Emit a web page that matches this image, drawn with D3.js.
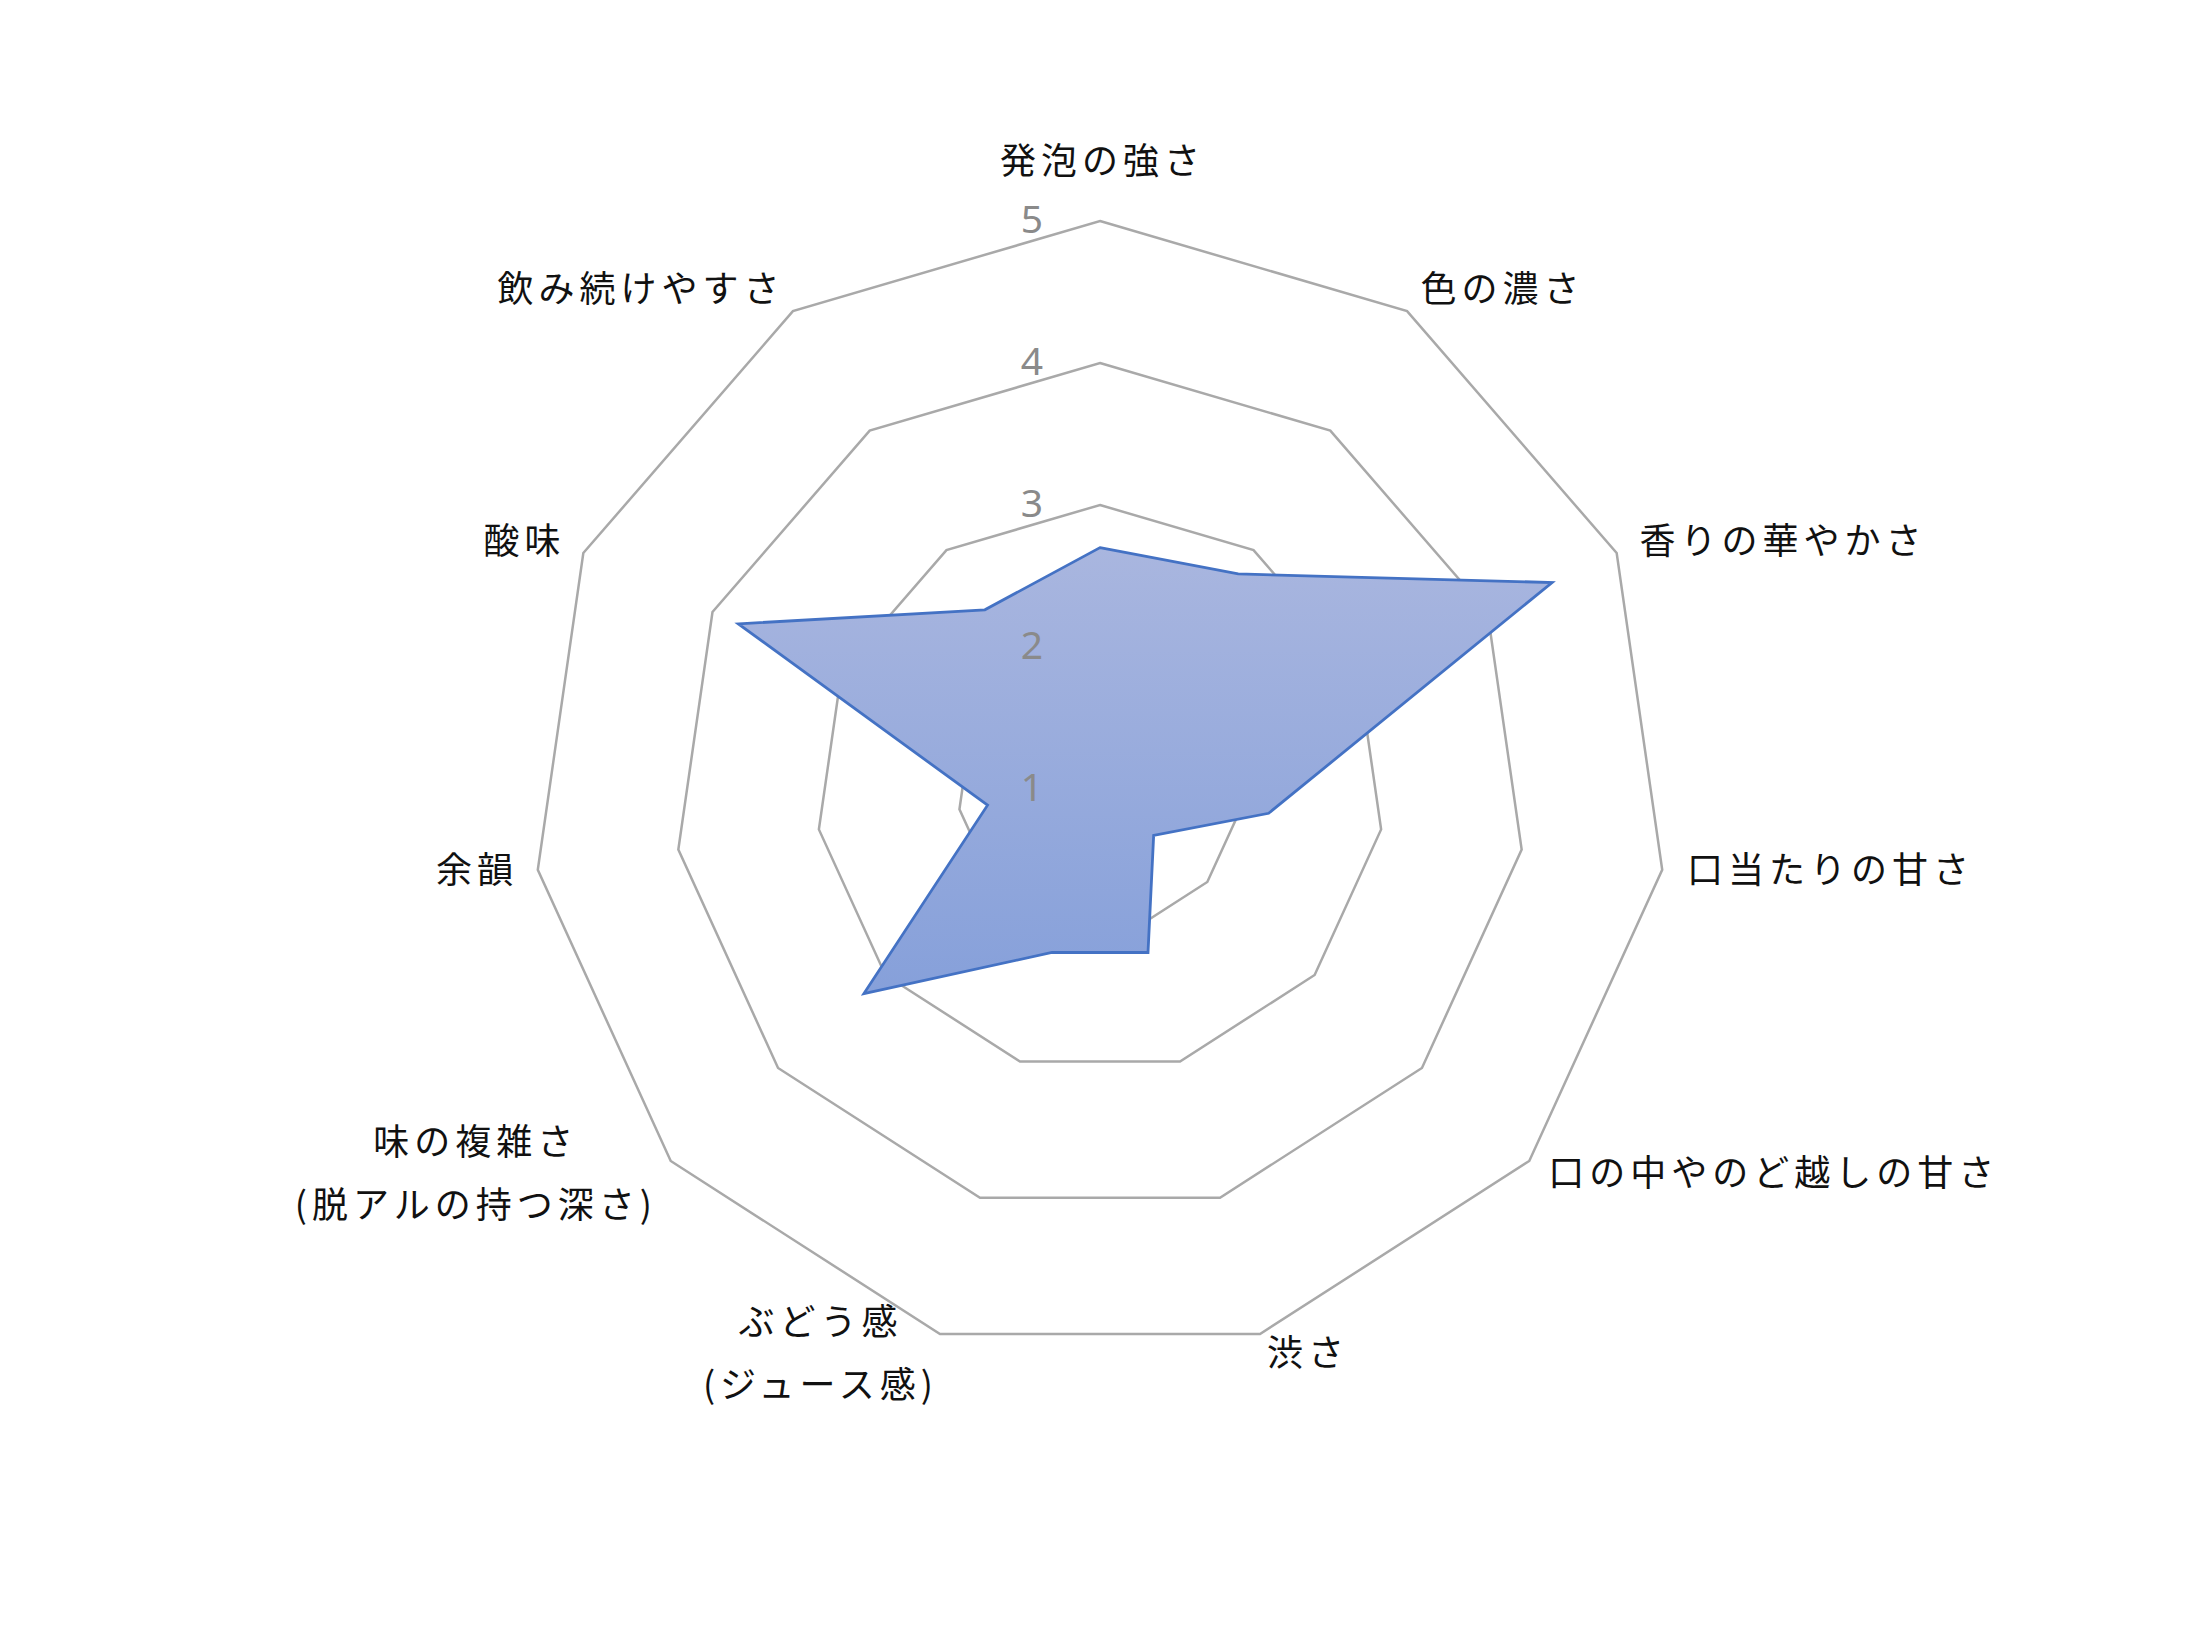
<!DOCTYPE html>
<html>
<head>
<meta charset="utf-8">
<script src="https://cdn.jsdelivr.net/npm/d3@7"></script>
<style>
  html, body { margin: 0; padding: 0; background: #ffffff; }
  svg { display: block; }
</style>
</head>
<body>
<script>
const categories = ["発泡の強さ", "色の濃さ", "香りの華やかさ", "口当たりの甘さ", "口の中やのど越しの甘さ", "渋さ", "ぶどう感\n(ジュース感)", "味の複雑さ\n(脱アルの持つ深さ)", "余韻", "酸味", "飲み続けやすさ"];
const values = [2.7, 2.8, 4.5, 2.2, 1.5, 2.2, 2.2, 3.2, 1.8, 3.8, 2.5];
const ticks = [1, 2, 3, 4, 5];

const W = 2200, H = 1650;
const cx = 1100, cy = 789, R = 568;
const n = categories.length;

const svg = d3.select("body").append("svg").attr("width", W).attr("height", H);
svg.append("rect").attr("width", W).attr("height", H).attr("fill", "#ffffff");

const r = d3.scaleLinear().domain([1, 5]).range([0, R]);
const angle = d3.scalePoint().domain(d3.range(n + 1)).range([0, 2 * Math.PI]);
const ang = i => angle(i);

const defs = svg.append("defs");
const grad = defs.append("linearGradient").attr("id", "fillGrad")
  .attr("x1", 0).attr("y1", 0).attr("x2", 0).attr("y2", 1);
grad.append("stop").attr("offset", "0%").attr("stop-color", "#a9b6df");
grad.append("stop").attr("offset", "100%").attr("stop-color", "#86a0da");

const g = svg.append("g").attr("transform", `translate(${cx},${cy})`);

const radial = d3.lineRadial().angle((d, i) => ang(i)).radius(d => r(d)).curve(d3.curveLinearClosed);

// grid rings
g.selectAll("path.ring").data(ticks.filter(t => t > 1)).join("path")
  .attr("class", "ring")
  .attr("d", t => radial(d3.range(n).map(() => t)))
  .attr("fill", "none")
  .attr("stroke", "#a9a9a9")
  .attr("stroke-width", 2.5)
  .attr("stroke-linejoin", "miter");

// data polygon
g.append("path")
  .attr("d", radial(values))
  .attr("fill", "url(#fillGrad)")
  .attr("stroke", "#4472c4")
  .attr("stroke-width", 2.8)
  .attr("stroke-linejoin", "miter");

// tick labels
g.selectAll("text.tick").data(ticks).join("text")
  .attr("class", "tick")
  .attr("x", -57)
  .attr("y", t => -r(t) - 4)
  .attr("text-anchor", "end")
  .attr("dominant-baseline", "central")
  .attr("font-family", "'Noto Sans', 'Noto Sans CJK JP', sans-serif")
  .attr("font-size", 39)
  .attr("fill", "#8a8a8a")
  .text(t => t);

// category labels
const ls = 5;
const lineH = 63;
categories.forEach((c, i) => {
  const a = ang(i);
  const sx = Math.sin(a), sy = -Math.cos(a);
  const lines = c.split("\n");
  const t = g.append("text")
    .attr("font-family", "'Noto Sans CJK JP', sans-serif")
    .attr("font-size", 36)
    .attr("letter-spacing", ls + "px")
    .attr("fill", "#111111")
    .attr("dominant-baseline", "central")
    .attr("text-anchor", "middle");
  const spans = lines.map(l => t.append("tspan").text(l));
  const widths = spans.map(s => s.node().getComputedTextLength() - ls);
  const bw = d3.max(widths);
  let center, by0;
  if (Math.abs(sx) < 0.05) {
    center = 0;
    by0 = -631;
  } else {
    const edge = 593 * sx;
    center = sx > 0 ? edge + bw / 2 : edge - bw / 2;
    by0 = 591 * sy - 6 - (lines.length - 1) * lineH / 2;
  }
  spans.forEach((s, k) => s.attr("x", center + ls / 2).attr("y", by0 + k * lineH));
});
</script>
</body>
</html>
